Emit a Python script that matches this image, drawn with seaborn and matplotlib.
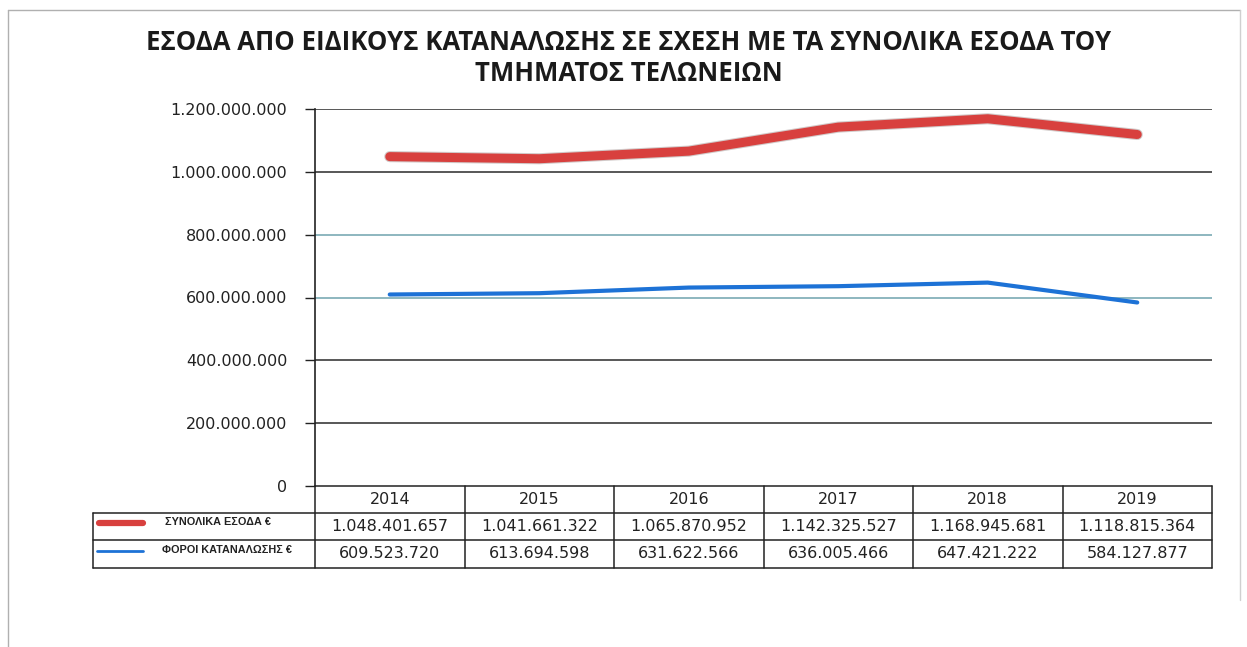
import pandas as pd
import seaborn as sns
import matplotlib.pyplot as plt
from matplotlib.lines import Line2D

# data
years = ["2014", "2015", "2016", "2017", "2018", "2019"]
total_income = [1048401657, 1041661322, 1065870952, 1142325527, 1168945681, 1118815364]
consumption_tax = [609523720, 613694598, 631622566, 636005466, 647421222, 584127877]
series_names = ["ΣΥΝΟΛΙΚΑ ΕΣΟΔΑ €", "ΦΟΡΟΙ ΚΑΤΑΝΑΛΩΣΗΣ €"]
y_ticks = [0, 200000000, 400000000, 600000000, 800000000, 1000000000, 1200000000]
title = "ΕΣΟΔΑ ΑΠΟ ΕΙΔΙΚΟΥΣ ΚΑΤΑΝΑΛΩΣΗΣ ΣΕ ΣΧΕΣΗ ΜΕ ΤΑ ΣΥΝΟΛΙΚΑ ΕΣΟΔΑ ΤΟΥ\nΤΜΗΜΑΤΟΣ ΤΕΛΩΝΕΙΩΝ"

RED = "#d8403e"
BLUE = "#1d72d6"


def gr(v):
    return f"{v:,}".replace(",", ".")


sns.set_theme(style="white")
plt.rcParams['font.family'] = ['DejaVu Sans']

df = pd.DataFrame({
    "x": list(range(len(years))) * 2,
    "value": total_income + consumption_tax,
    "series": [series_names[0]] * len(years) + [series_names[1]] * len(years),
})

W, H = 1247, 647
fig = plt.figure(figsize=(W / 100, H / 100), dpi=100)
L, R, T, B = 315, 1212, 109, 486
ax = fig.add_axes([L / W, 1 - B / H, (R - L) / W, (B - T) / H])

# pixel -> axes fraction helpers
def axx(px):
    return (px - L) / (R - L)

def axy(py):
    return (B - py) / (B - T)

# gridlines
grid_cols = ["#2a2a2a", "#2a2a2a", "#2a2a2a", "#6fa3ad", "#6fa3ad", "#2a2a2a", "#2a2a2a"]
for v, c in zip(y_ticks[1:], grid_cols[1:]):
    ax.axhline(v, color=c, lw=1.1, zorder=1)

# shadow under the red line
ax.plot(range(len(years)), total_income, color="#9a8a88", lw=8, alpha=0.45,
        solid_capstyle="round", zorder=2)
sns.lineplot(data=df[df.series == series_names[0]], x="x", y="value", color=RED,
             lw=6.5, ax=ax, legend=False, zorder=3,
             solid_capstyle="round")
sns.lineplot(data=df[df.series == series_names[1]], x="x", y="value", color=BLUE,
             lw=3, ax=ax, legend=False, zorder=3)

ax.set_xlim(-0.5, len(years) - 0.5)
ax.set_ylim(0, 1200000000)
ax.set_yticks(y_ticks)
ax.set_yticklabels([gr(v) for v in y_ticks], fontsize=11.5, color="#222222")
ax.tick_params(axis="y", length=7, width=1, color="#222222", pad=13, left=True)
ax.set_xticks([])
ax.set_xlabel("")
ax.set_ylabel("")
for s in ["top", "right", "bottom"]:
    ax.spines[s].set_visible(False)
ax.spines["left"].set_color("#222222")
ax.spines["left"].set_linewidth(1.2)

# data table under the plot
kw = dict(transform=ax.transAxes, clip_on=False, color="#222222", lw=1.1)
ax.add_line(Line2D([0, 0], [axy(486), axy(568)], **kw))
ax.add_line(Line2D([0, 1], [axy(486), axy(486)], **kw))
ax.add_line(Line2D([axx(93), 1], [axy(513), axy(513)], **kw))
ax.add_line(Line2D([axx(93), 1], [axy(540), axy(540)], **kw))
ax.add_line(Line2D([axx(93), 1], [axy(568), axy(568)], **kw))
ax.add_line(Line2D([axx(93), axx(93)], [axy(513), axy(568)], **kw))
for i in range(1, len(years) + 1):
    xf = i / len(years)
    ax.add_line(Line2D([xf, xf], [axy(486), axy(568)], **kw))

tr = ax.get_xaxis_transform()
for i, yr in enumerate(years):
    ax.text(i, axy(499.5), yr, transform=tr, ha="center", va="center",
            fontsize=11.5, color="#222222")
    ax.text(i, axy(526.5), gr(total_income[i]), transform=tr, ha="center",
            va="center", fontsize=11.5, color="#222222")
    ax.text(i, axy(554), gr(consumption_tax[i]), transform=tr, ha="center",
            va="center", fontsize=11.5, color="#222222")

# legend keys in the row headers
ax.add_line(Line2D([axx(99), axx(143)], [axy(523), axy(523)], transform=ax.transAxes,
                   clip_on=False, color=RED, lw=4.5, solid_capstyle="round"))
ax.add_line(Line2D([axx(97), axx(143)], [axy(551), axy(551)], transform=ax.transAxes,
                   clip_on=False, color=BLUE, lw=2))
lab_font = ["Liberation Sans", "DejaVu Sans"]
ax.text(axx(218), axy(522), series_names[0], transform=ax.transAxes, ha="center",
        va="center", fontsize=7.8, fontweight="bold", color="#222222", family=lab_font)
ax.text(axx(227), axy(550), series_names[1], transform=ax.transAxes, ha="center",
        va="center", fontsize=7.8, fontweight="bold", color="#222222", family=lab_font)

fig.text(629 / W, 1 - 58 / H, title, ha="center", va="center", fontsize=18.5,
         fontweight="bold", color="#1a1a1a", linespacing=1.2,
         family=["Open Sans", "DejaVu Sans"])

# scanned page frame
fig.add_artist(Line2D([8 / W, 1240 / W], [1 - 10 / H, 1 - 10 / H], transform=fig.transFigure,
                      color="#b0b0b0", lw=1))
fig.add_artist(Line2D([8 / W, 8 / W], [1 - 10 / H, 0], transform=fig.transFigure,
                      color="#b0b0b0", lw=1))
fig.add_artist(Line2D([1240 / W, 1240 / W], [1 - 10 / H, 1 - 600 / H], transform=fig.transFigure,
                      color="#d0d0d0", lw=1))

fig.savefig("out.png", dpi=100)
